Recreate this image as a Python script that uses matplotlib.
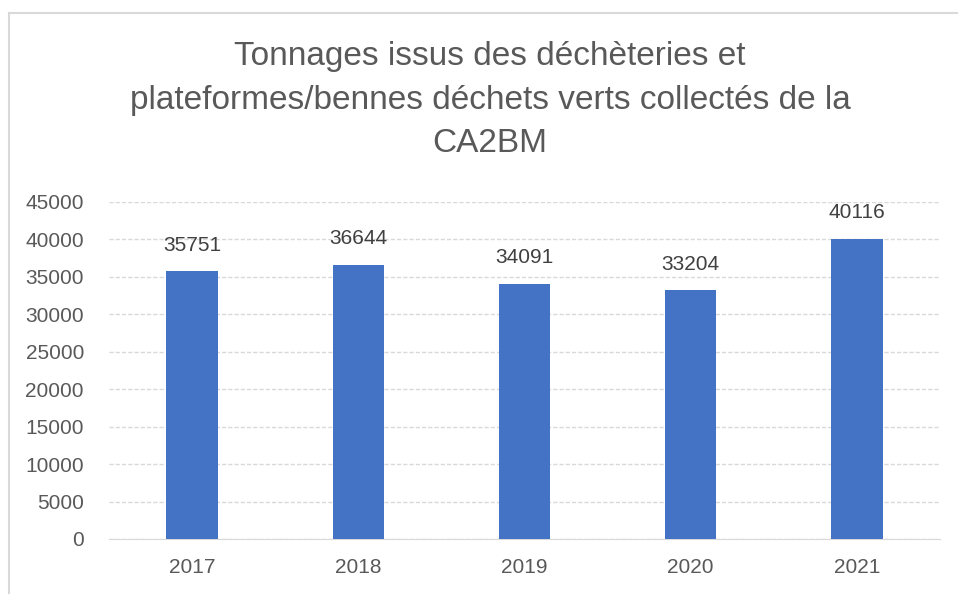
import matplotlib.pyplot as plt
from matplotlib.lines import Line2D

# Data
years = ["2017", "2018", "2019", "2020", "2021"]
tonnages = [35751, 36644, 34091, 33204, 40116]
y_ticks = [0, 5000, 10000, 15000, 20000, 25000, 30000, 35000, 40000, 45000]

title = "Tonnages issus des déchèteries et\nplateformes/bennes déchets verts collectés de la\nCA2BM"

bar_color = "#4472c4"
text_color = "#595959"
grid_color = "#d9d9d9"

plt.rcParams["font.family"] = ["Liberation Sans", "DejaVu Sans"]


def plot_tonnages():
    fig = plt.figure(figsize=(9.58, 5.94), dpi=100)
    ax = fig.add_axes([109 / 958, 1 - 539 / 594, (940 - 109) / 958, (539 - 202) / 594])

    x = range(len(years))
    bars = ax.bar(x, tonnages, width=0.31, color=bar_color, zorder=3)

    # value labels above bars
    for rect, val in zip(bars, tonnages):
        ax.annotate(str(val), (rect.get_x() + rect.get_width() / 2, rect.get_height()),
                    xytext=(0, 12), textcoords="offset points",
                    ha="center", va="bottom", fontsize=15, color="#404040")

    ax.set_xlim(-0.5, len(years) - 0.5)
    ax.set_ylim(0, 45000)
    ax.set_xticks(list(x))
    ax.set_xticklabels(years)
    ax.set_yticks(y_ticks)
    ax.tick_params(axis="both", length=0, labelsize=15, labelcolor=text_color)
    ax.tick_params(axis="x", pad=14)
    ax.tick_params(axis="y", pad=18)

    ax.yaxis.grid(True, color=grid_color, linestyle=(0, (3, 1.5)), linewidth=1, zorder=0)
    for side in ["top", "right", "left"]:
        ax.spines[side].set_visible(False)
    ax.spines["bottom"].set_color(grid_color)

    fig.text(490 / 958, 1 - 100 / 594, title, ha="center", va="center",
             fontsize=24, color=text_color, linespacing=1.5)

    # chart frame (top and left edges visible in the reference)
    fig.add_artist(Line2D([9 / 958, 1], [1 - 13 / 594, 1 - 13 / 594], color="#d9d9d9", lw=1.5))
    fig.add_artist(Line2D([9 / 958, 9 / 958], [0, 1 - 13 / 594], color="#d9d9d9", lw=1.5))

    fig.savefig("out.png", dpi=100)


def main():
    plot_tonnages()


if __name__ == "__main__":
    main()
